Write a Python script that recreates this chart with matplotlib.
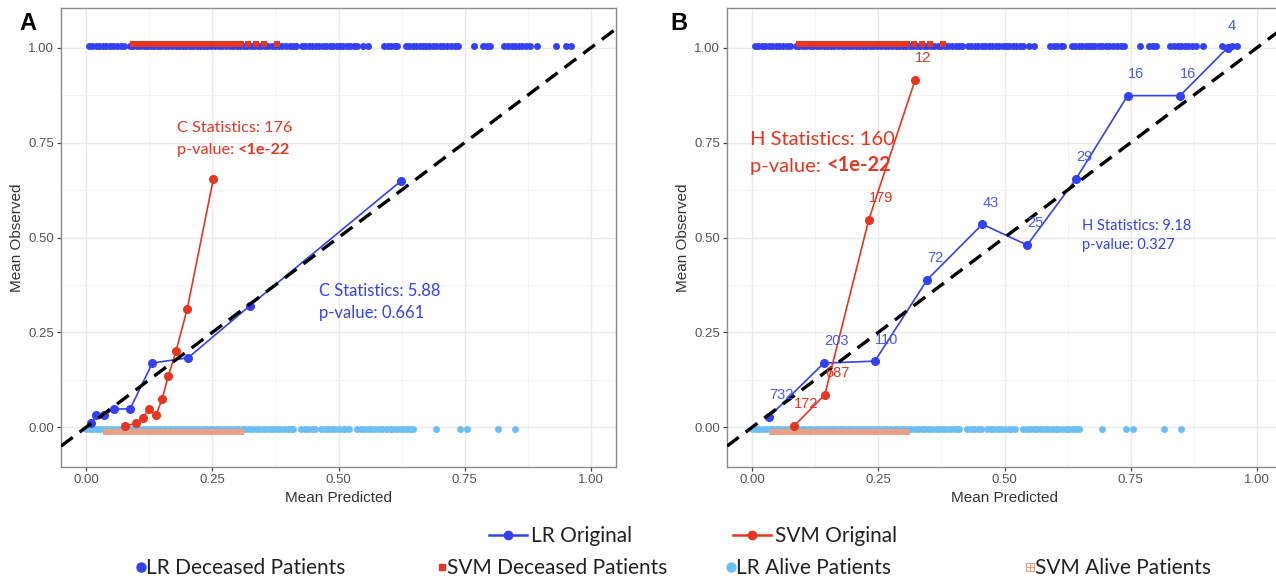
import numpy as np
import matplotlib
matplotlib.use("Agg")
import matplotlib.pyplot as plt
from matplotlib.lines import Line2D
from matplotlib.legend_handler import HandlerTuple

# calibration curves, panel A (decile groups)
lr_a_x = [0.009, 0.020, 0.035, 0.055, 0.087, 0.131, 0.202, 0.324, 0.623]
lr_a_y = [0.010, 0.032, 0.031, 0.048, 0.048, 0.169, 0.183, 0.320, 0.648]
svm_a_x = [0.077, 0.099, 0.112, 0.125, 0.138, 0.150, 0.163, 0.178, 0.200, 0.252]
svm_a_y = [0.003, 0.010, 0.025, 0.048, 0.031, 0.073, 0.136, 0.201, 0.311, 0.655]

# panel B (equal-width groups) with group sizes
lr_b_x = [0.033, 0.142, 0.243, 0.347, 0.456, 0.545, 0.642, 0.744, 0.848, 0.942]
lr_b_y = [0.027, 0.169, 0.174, 0.389, 0.535, 0.480, 0.655, 0.874, 0.874, 1.000]
lr_b_n = ['732', '203', '110', '72', '43', '25', '29', '16', '16', '4']
svm_b_x = [0.083, 0.144, 0.231, 0.323]
svm_b_y = [0.003, 0.086, 0.547, 0.916]
svm_b_n = ['172', '687', '179', '12']

# predicted probabilities of individual patients (rugs)
lr_dead = [0.005, 0.012, 0.019, 0.026, 0.033, 0.040, 0.047, 0.054, 0.061, 0.068, 0.075,
           0.086, 0.093, 0.100, 0.107, 0.114, 0.121, 0.128, 0.135, 0.142, 0.149, 0.156,
           0.163, 0.170, 0.177, 0.184, 0.191, 0.198, 0.205, 0.212, 0.219, 0.226, 0.233,
           0.240, 0.247, 0.256, 0.263, 0.270, 0.277, 0.284, 0.291, 0.298, 0.305, 0.312,
           0.319, 0.326, 0.333, 0.340, 0.347, 0.354, 0.361, 0.368, 0.375, 0.382, 0.389,
           0.396, 0.403, 0.410, 0.416, 0.427, 0.434, 0.441, 0.448, 0.455, 0.462, 0.469,
           0.476, 0.483, 0.490, 0.497, 0.502, 0.509, 0.516, 0.523, 0.530, 0.537, 0.548,
           0.559, 0.591, 0.598, 0.605, 0.612, 0.616, 0.633, 0.640, 0.647, 0.654, 0.661,
           0.668, 0.673, 0.680, 0.687, 0.694, 0.701, 0.708, 0.715, 0.722, 0.730, 0.737,
           0.769, 0.787, 0.794, 0.801, 0.829, 0.836, 0.843, 0.850, 0.857, 0.864, 0.872,
           0.879, 0.893, 0.932, 0.950, 0.961]
svm_dead = [0.093, 0.100, 0.107, 0.114, 0.121, 0.128, 0.135, 0.142, 0.149, 0.156, 0.163,
            0.170, 0.177, 0.184, 0.191, 0.198, 0.205, 0.212, 0.219, 0.226, 0.233, 0.240,
            0.247, 0.254, 0.261, 0.268, 0.275, 0.282, 0.289, 0.296, 0.303, 0.306,
            0.320, 0.337, 0.352, 0.379]
lr_alive = [0.000, 0.007, 0.014, 0.021, 0.028, 0.035, 0.042, 0.049, 0.056, 0.063, 0.070,
            0.077, 0.084, 0.091, 0.098, 0.105, 0.112, 0.119, 0.126, 0.133, 0.140, 0.147,
            0.154, 0.161, 0.168, 0.175, 0.182, 0.189, 0.196, 0.203, 0.210, 0.217, 0.224,
            0.231, 0.238, 0.245, 0.252, 0.259, 0.266, 0.273, 0.280, 0.287, 0.294, 0.301,
            0.308, 0.315, 0.322, 0.329, 0.336, 0.343, 0.350, 0.357, 0.364, 0.371, 0.378,
            0.385, 0.392, 0.399, 0.406, 0.410, 0.426, 0.433, 0.440, 0.447, 0.454, 0.466,
            0.473, 0.480, 0.487, 0.494, 0.501, 0.508, 0.513, 0.521, 0.537, 0.544, 0.551,
            0.558, 0.565, 0.572, 0.580, 0.587, 0.594, 0.603, 0.607, 0.614, 0.621, 0.628,
            0.635, 0.642, 0.647, 0.694, 0.741, 0.755, 0.816, 0.849]
svm_alive = [0.039, 0.045, 0.051, 0.057, 0.063, 0.069, 0.075, 0.081, 0.087, 0.093, 0.099,
             0.105, 0.111, 0.117, 0.123, 0.129, 0.135, 0.141, 0.147, 0.153, 0.159, 0.165,
             0.171, 0.177, 0.183, 0.189, 0.195, 0.201, 0.207, 0.213, 0.219, 0.225, 0.231,
             0.237, 0.243, 0.249, 0.253, 0.259, 0.265, 0.272, 0.281, 0.289, 0.297, 0.307]

LR = '#3341F2'
SVM = '#E8351F'
LR_LIGHT = '#6DBEF5'
SVM_LIGHT = '#E9A183'
TXT_FONT = ['Lato', 'DejaVu Sans']
AX_FONT = ['Liberation Sans', 'DejaVu Sans']

fig = plt.figure(figsize=(12.76, 5.81), dpi=100)
W, H = 1276, 581
axA = fig.add_axes([61 / W, 1 - 467 / H, 555 / W, 459 / H])
axB = fig.add_axes([727 / W, 1 - 467 / H, 555 / W, 459 / H])


def style(ax):
    ax.set_xlim(-0.05, 1.05)
    ax.set_ylim(-0.105, 1.105)
    ticks = [0, 0.25, 0.5, 0.75, 1.0]
    ax.set_xticks(ticks)
    ax.set_yticks(ticks)
    ax.set_xticklabels(['%.2f' % t for t in ticks], family=AX_FONT)
    ax.set_yticklabels(['%.2f' % t for t in ticks], family=AX_FONT)
    ax.set_xticks([0.125, 0.375, 0.625, 0.875], minor=True)
    ax.set_yticks([0.125, 0.375, 0.625, 0.875], minor=True)
    ax.tick_params(which='major', length=3, width=0.9, color='#444444',
                   labelcolor='#555555', labelsize=9.5, pad=2)
    ax.tick_params(which='minor', length=0)
    ax.grid(which='major', color='#EAEAEA', lw=1.0)
    ax.grid(which='minor', color='#F3F3F3', lw=0.7)
    ax.set_axisbelow(True)
    for sp in ax.spines.values():
        sp.set_color('#8A8A8A')
        sp.set_linewidth(1.0)
    ax.set_xlabel('Mean Predicted', family=AX_FONT, fontsize=11, color='#333333', labelpad=4)
    ax.set_ylabel('Mean Observed', family=AX_FONT, fontsize=11, color='#333333', labelpad=3)


def rugs(ax):
    ax.plot(lr_alive, [-0.004] * len(lr_alive), 'o', color=LR_LIGHT, ms=5, mew=0, zorder=2)
    ax.plot(svm_alive, [-0.012] * len(svm_alive), 's', color=SVM_LIGHT, ms=5, mew=0, zorder=2)
    ax.plot(lr_dead, [1.005] * len(lr_dead), 'o', color=LR, ms=5, mew=0, zorder=2)
    ax.plot(svm_dead, [1.010] * len(svm_dead), 's', color=SVM, ms=4.6, mew=0, zorder=2)


def diagonal(ax):
    ax.axline((0, 0), slope=1, color='black', lw=2.4, ls=(0, (4.4, 2.6)), zorder=4)


def stat_text(ax, x, y1, y2, line1, pval, color, size, bold_p):
    ax.text(x, y1, line1, color=color, fontsize=size, family=TXT_FONT,
            ha='left', va='center', zorder=6)
    if bold_p:
        t = ax.text(x, y2, 'p-value: ', color=color, fontsize=size, family=TXT_FONT,
                    ha='left', va='center', zorder=6)
        ax.annotate(pval, xy=(1, 0), xycoords=t, ha='left', va='bottom',
                    color=color, fontsize=size, family=TXT_FONT, fontweight='bold', zorder=6)
    else:
        ax.text(x, y2, 'p-value: ' + pval, color=color, fontsize=size, family=TXT_FONT,
                ha='left', va='center', zorder=6)


# panel A
style(axA)
rugs(axA)
axA.plot(lr_a_x, lr_a_y, '-o', color=LR, lw=1.2, ms=5.5, zorder=3)
axA.plot(svm_a_x, svm_a_y, '-o', color=SVM, lw=1.2, ms=5.5, zorder=3)
diagonal(axA)
stat_text(axA, 0.179, 0.788, 0.730, 'C Statistics: 176', '<1e-22', SVM, 11.7, True)
stat_text(axA, 0.462, 0.358, 0.301, 'C Statistics: 5.88', '0.661', LR, 12, False)

# panel B
style(axB)
rugs(axB)
axB.plot(lr_b_x, lr_b_y, '-o', color=LR, lw=1.2, ms=5.5, zorder=3)
axB.plot(svm_b_x, svm_b_y, '-o', color=SVM, lw=1.2, ms=5.5, zorder=3)
diagonal(axB)
for x, y, n in zip(lr_b_x, lr_b_y, lr_b_n):
    axB.text(x, y + 0.057, n, color='#4A5AF0', fontsize=10.5, family=AX_FONT,
             ha='left', va='center', zorder=5)
for x, y, n in zip(svm_b_x, svm_b_y, svm_b_n):
    axB.text(x, y + 0.057, n, color=SVM, fontsize=10.5, family=AX_FONT,
             ha='left', va='center', zorder=5)
stat_text(axB, -0.004, 0.759, 0.687, 'H Statistics: 160', '<1e-22', SVM, 14.5, True)
stat_text(axB, 0.654, 0.529, 0.481, 'H Statistics: 9.18', '0.327', LR, 10.5, False)

fig.text(19 / W, 1 - 30 / H, 'A', fontsize=17, fontweight='bold', family=AX_FONT, va='baseline')
fig.text(670 / W, 1 - 30 / H, 'B', fontsize=17, fontweight='bold', family=AX_FONT, va='baseline')

# legend, one entry per key so each sits in its own column
leg_kw = dict(frameon=False, loc='center left', borderpad=0, borderaxespad=0,
              prop={'family': TXT_FONT, 'size': 15})
entries = [
    (Line2D([], [], color=LR, marker='o', lw=1.8, ms=6), 'LR Original', 489, 536, 1.8, 0.2),
    (Line2D([], [], color=SVM, marker='o', lw=1.8, ms=6), 'SVM Original', 733, 536, 1.8, 0.2),
    (Line2D([], [], color=LR, marker='o', lw=0, ms=6.5), 'LR Deceased Patients', 137, 568, 0.4, 0.05),
    (Line2D([], [], color=SVM, marker='s', lw=0, ms=4.5), 'SVM Deceased Patients', 438, 568, 0.4, 0.05),
    (Line2D([], [], color=LR_LIGHT, marker='o', lw=0, ms=6.5), 'LR Alive Patients', 727, 568, 0.4, 0.05),
    ((Line2D([], [], color=SVM_LIGHT, marker='s', lw=0, ms=6, mfc='none', mew=0.8),
      Line2D([], [], color=SVM_LIGHT, marker='+', lw=0, ms=6, mew=0.8)),
     'SVM Alive Patients', 1026, 568, 0.4, 0.05),
]
for h, lab, x, y, hl, tp in entries:
    lg = fig.legend([h], [lab], bbox_to_anchor=(x / W, 1 - y / H), handlelength=hl,
                    handletextpad=tp, handler_map={tuple: HandlerTuple(ndivide=1)}, **leg_kw)
    lg.get_texts()[0].set_color('#222222')

fig.savefig('out.png', dpi=100)
